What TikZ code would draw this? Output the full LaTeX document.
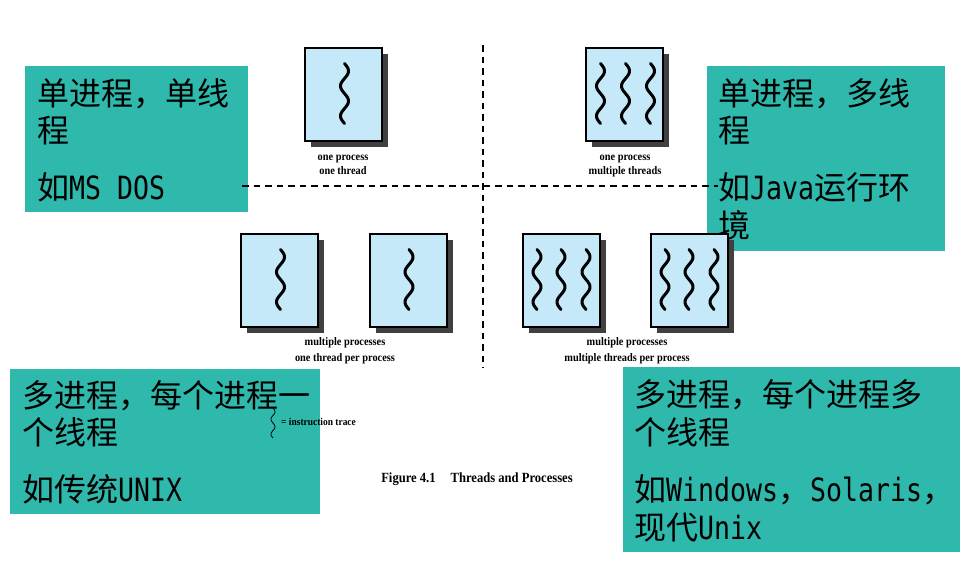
\documentclass[tikz,border=0pt]{standalone}
\usepackage{fontspec}
\usetikzlibrary{shadows}
\newfontfamily\cjk{Noto Sans CJK SC}
\newfontfamily\monolat[FakeStretch=0.83]{DejaVu Sans Mono}
\newfontfamily\tms[FakeStretch=0.9]{Liberation Serif}
\definecolor{teal2}{RGB}{46,185,172}
\definecolor{procblue}{RGB}{197,233,248}
\definecolor{shadowgray}{RGB}{64,64,64}
\newcommand\mw[1]{{\monolat #1}}
\newcommand\thr[2]{\draw[thread, shift={(#1.north)}] plot[domain=0:60,samples=61,smooth] ({#2+4*sin(12*\x)},{17+\x});}
\begin{document}
\begin{tikzpicture}[x=1pt,y=-1pt,
  infobox/.style={fill=teal2, draw=none, inner sep=0pt, outer sep=0pt, anchor=north west},
  infotext/.style={anchor=base west, inner sep=0pt, font=\cjk\fontsize{32}{37}\selectfont},
  proc/.style={draw=black, line width=2pt, fill=procblue, minimum width=77pt, minimum height=93pt, inner sep=0pt,
    drop shadow={shadow xshift=6pt, shadow yshift=-6pt, fill=shadowgray, opacity=1}},
  plabel/.style={anchor=base, inner sep=0pt, font=\tms\bfseries\fontsize{11.5}{13}\selectfont},
  divider/.style={dash pattern=on 6.5pt off 5pt, line width=2.8pt},
  thread/.style={line width=3pt, line cap=round},
]
\useasboundingbox (0,0) rectangle (972,565);
\fill[white] (0,0) rectangle (972,565);

% green annotation boxes
\node[infobox, minimum width=223pt, minimum height=146pt] (g1) at (25,66) {};
\node[infobox, minimum width=238pt, minimum height=185pt] (g2) at (707,66) {};
\node[infobox, minimum width=310pt, minimum height=145pt] (g3) at (10,369) {};
\node[infobox, minimum width=337pt, minimum height=185pt] (g4) at (623,367) {};

\node[infotext] (t1a) at (37,105) {单进程，单线};
\node[infotext] (t1b) at (37,142) {程};
\node[infotext] (t1c) at (37,199) {如\mw{MS DOS}};

\node[infotext] (t2a) at (718,105) {单进程，多线};
\node[infotext] (t2b) at (718,142) {程};
\node[infotext] (t2c) at (718,199) {如\mw{Java}运行环};
\node[infotext] (t2d) at (718,237) {境};

\node[infotext] (t3a) at (22,407) {多进程，每个进程一};
\node[infotext] (t3b) at (22,444) {个线程};
\node[infotext] (t3c) at (22,501) {如传统\mw{UNIX}};

\node[infotext] (t4a) at (634,406) {多进程，每个进程多};
\node[infotext] (t4b) at (634,444) {个线程};
\node[infotext] (t4c) at (634,501) {如\mw{Windows}，\mw{Solaris}，};
\node[infotext] (t4d) at (634,539) {现代\mw{Unix}};

% dividers
\coordinate (vt) at (483,45);
\coordinate (vb) at (483,368);
\coordinate (hl) at (242,186);
\coordinate (hr) at (718,186);
\draw[divider] (vt) -- (vb);
\draw[divider] (hl) -- (hr);

% processes
\node[proc] (p1) at (343.5,94) {};
\node[proc] (p2) at (624.5,94) {};
\node[proc] (p3) at (279.5,280) {};
\node[proc] (p4) at (408,280) {};
\node[proc] (p5) at (561,280) {};
\node[proc] (p6) at (689,280) {};

\thr{p1}{1}
\thr{p2}{-24} \thr{p2}{1} \thr{p2}{26}
\thr{p3}{1}
\thr{p4}{1}
\thr{p5}{-24} \thr{p5}{0} \thr{p5}{25}
\thr{p6}{-24} \thr{p6}{0} \thr{p6}{25}

% labels
\node[plabel] (l1a) at (343,160.5) {one process};
\node[plabel] (l1b) at (343,174) {one thread};
\node[plabel] (l2a) at (625,160.5) {one process};
\node[plabel] (l2b) at (625,174) {multiple threads};
\node[plabel] (l3a) at (345,345.5) {multiple processes};
\node[plabel] (l3b) at (345,361) {one thread per process};
\node[plabel] (l4a) at (627,345.5) {multiple processes};
\node[plabel] (l4b) at (627,361) {multiple threads per process};

% legend
\coordinate (leg) at (273,408);
\draw[line width=0.8pt, shift={(leg)}] plot[domain=0:30,samples=41,smooth] ({2*sin(24*\x)},{\x});
\node[plabel, anchor=base west, font=\tms\bfseries\fontsize{10.5}{12}\selectfont] (legt) at (281,425.5) {= instruction trace};

% caption
\node[anchor=base, inner sep=0pt, font=\tms\bfseries\fontsize{14}{16}\selectfont] (cap) at (477,482.5) {Figure 4.1\hspace{15pt}Threads and Processes};
\end{tikzpicture}
\end{document}
